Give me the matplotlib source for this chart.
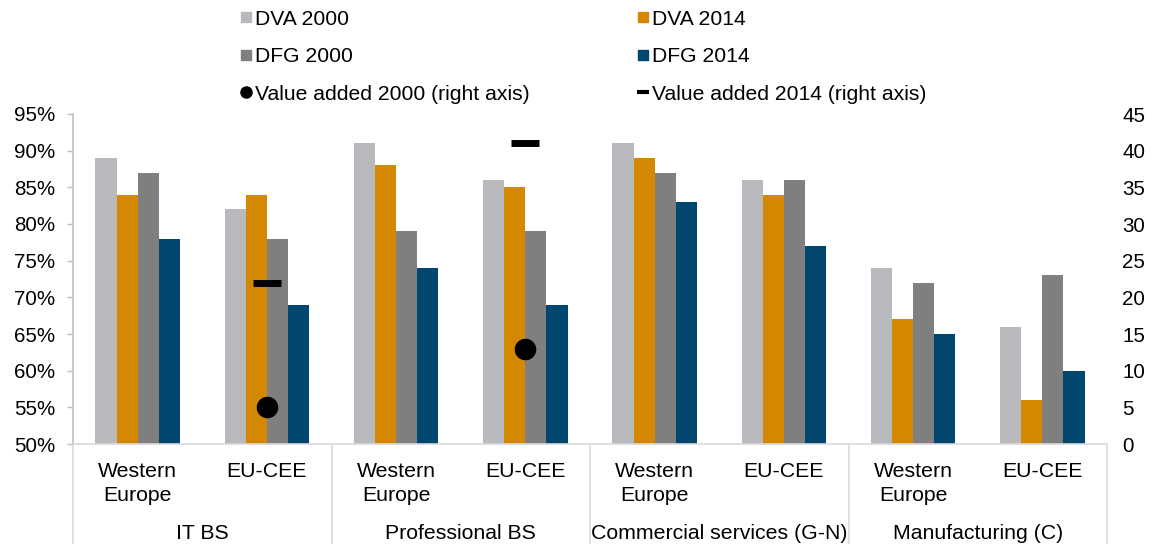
import matplotlib
matplotlib.use("Agg")
import matplotlib.pyplot as plt
import numpy as np
from matplotlib.lines import Line2D
from matplotlib.ticker import FuncFormatter

plt.rcParams['font.family'] = ['Liberation Sans', 'DejaVu Sans']

# ---- data ----
sectors = ['IT BS', 'Professional BS', 'Commercial services (G-N)', 'Manufacturing (C)']
regions = ['Western\nEurope', 'EU-CEE']

dva_2000 = [89, 82, 91, 86, 91, 86, 74, 66]
dva_2014 = [84, 84, 88, 85, 89, 84, 67, 56]
dfg_2000 = [87, 78, 79, 79, 87, 86, 72, 73]
dfg_2014 = [78, 69, 74, 69, 83, 77, 65, 60]

# value added (right axis), only for EU-CEE in IT BS and Professional BS
va_idx = [1, 3]
va_2000 = [5, 13]
va_2014 = [22, 41]

series = [
    ('DVA 2000', dva_2000, '#B8B9BC'),
    ('DVA 2014', dva_2014, '#D48700'),
    ('DFG 2000', dfg_2000, '#7F7F7F'),
    ('DFG 2014', dfg_2014, '#00466E'),
]

# ---- figure ----
fig = plt.figure(figsize=(11.55, 5.44), dpi=100)
ax = fig.add_axes([73/1155, 100/544, (1107-73)/1155, (444-114)/544])

n = len(dva_2000)
x = np.arange(n)
w = 0.163
for i, (name, vals, col) in enumerate(series):
    ax.bar(x + (i - 1.5) * w, vals, width=w, color=col, linewidth=0, zorder=2)

ax.set_xlim(-0.5, n - 0.5)
ax.set_ylim(50, 95)
ax.set_yticks(np.arange(50, 96, 5))
ax.yaxis.set_major_formatter(FuncFormatter(lambda v, p: f'{v:.0f}%'))
ax.set_xticks([])
ax.tick_params(axis='y', length=4, width=1, color='#BFBFBF', pad=9, labelsize=14.8, labelcolor='black')
for s in ['top', 'right']:
    ax.spines[s].set_visible(False)
ax.spines['left'].set_color('#BFBFBF')
ax.spines['bottom'].set_color('#D9D9D9')
ax.spines['left'].set_linewidth(1.2)
ax.spines['bottom'].set_linewidth(1.2)

# right axis with value added markers
ax2 = ax.twinx()
ax2.set_ylim(0, 45)
ax2.set_yticks(np.arange(0, 46, 5))
ax2.tick_params(axis='y', length=0, pad=11, labelsize=14.8, labelcolor='black')
for s in ax2.spines.values():
    s.set_visible(False)
ax2.plot(x[va_idx], va_2000, linestyle='none', marker='o', markersize=14.5,
         color='black', zorder=5)
ax2.plot(x[va_idx], va_2014, linestyle='none', marker='_', markersize=20,
         markeredgewidth=5, color='black', zorder=5)

# ---- category axis labels ----
trans = ax.get_xaxis_transform()
for i in range(n):
    ax.text(x[i], -0.055, regions[i % 2], transform=trans, ha='center', va='top',
            fontsize=15.3, linespacing=1.3)
for g, name in enumerate(sectors):
    ax.text(2 * g + 0.5, -0.27, name, transform=trans, ha='center', va='center',
            fontsize=15.3)
for b in range(len(sectors) + 1):
    ax.plot([2 * b - 0.5, 2 * b - 0.5], [0, -0.31], transform=trans, color='#D9D9D9',
            linewidth=1.2, clip_on=False)

# ---- legend ----
h = {}
for name, vals, col in series:
    h[name] = Line2D([0], [0], linestyle='none', marker='s', markersize=7,
                     color=col, label=name)
h_va00 = Line2D([0], [0], linestyle='none', marker='o', markersize=8, color='black',
                label='Value added 2000 (right axis)')
h_va14 = Line2D([0], [0], linestyle='none', marker='_', markersize=8, markeredgewidth=3,
                color='black', label='Value added 2014 (right axis)')
handles = [h['DVA 2000'], h['DFG 2000'], h_va00, h['DVA 2014'], h['DFG 2014'], h_va14]
fig.legend(handles=handles, loc='upper left', bbox_to_anchor=(231/1155, 0.998), ncol=2,
           frameon=False, fontsize=15.2, handlelength=0.6, handletextpad=0.15,
           columnspacing=5.05, labelspacing=0.88, borderaxespad=0)

fig.savefig('out.png', dpi=100, facecolor='white')
